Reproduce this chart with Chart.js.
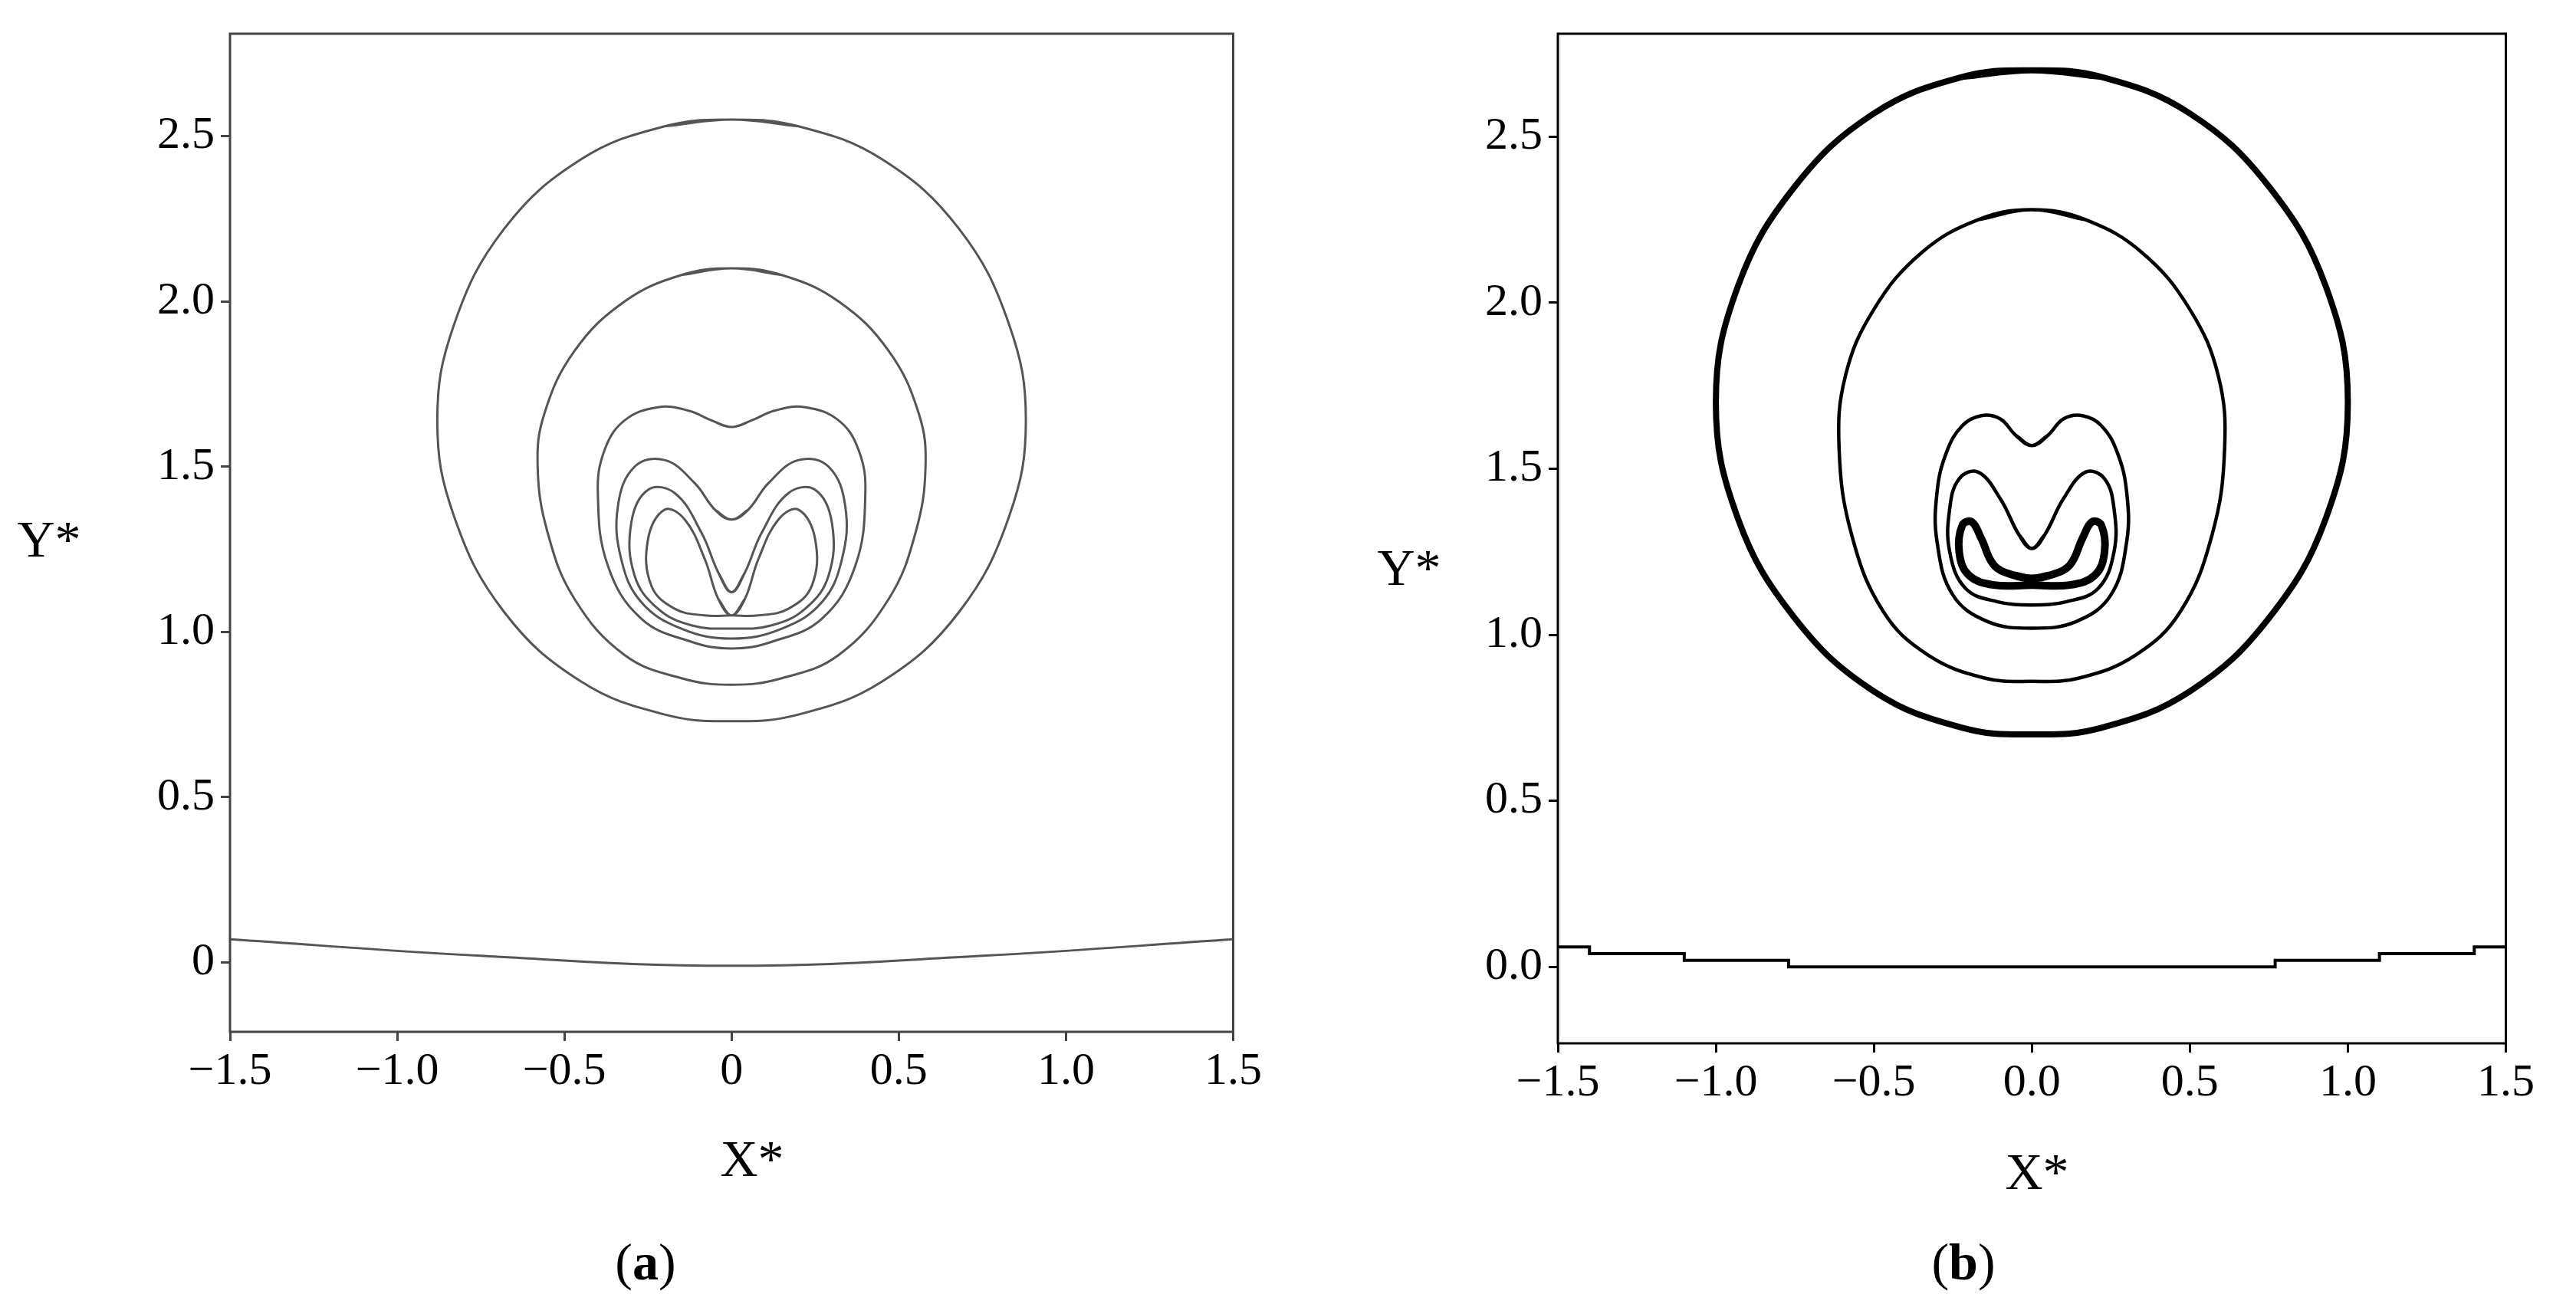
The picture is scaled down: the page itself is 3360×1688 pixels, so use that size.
<!DOCTYPE html>
<html>
<head>
<meta charset="utf-8">
<script src="https://cdn.jsdelivr.net/npm/chart.js@4"></script>
<style>
  body { margin: 0; background: #fff; width: 3360px; height: 1688px; position: relative; overflow: hidden; }
  .box { position: absolute; }
  .lbl { position: absolute; font-family: "Liberation Serif", serif; font-size: 68px; color: #000; transform: translate(-50%, -50%); white-space: nowrap; }
</style>
</head>
<body>
<div class="box" style="left:130px;top:0px;width:1520px;height:1441px"><canvas id="chartA"></canvas></div>
<div class="box" style="left:1862px;top:0px;width:1448px;height:1456px"><canvas id="chartB"></canvas></div>
<div class="lbl" style="left:64px;top:703px">Y*</div>
<div class="lbl" style="left:1838px;top:740px">Y*</div>
<div class="lbl" style="left:981px;top:1511px">X*</div>
<div class="lbl" style="left:2657px;top:1528px">X*</div>
<div class="lbl" style="left:842px;top:1646px">(<b>a</b>)</div>
<div class="lbl" style="left:2561px;top:1646px">(<b>b</b>)</div>
<script>
// tick labels
const xTicksA = ['−1.5', '−1.0', '−0.5', '0', '0.5', '1.0', '1.5'];
const yTicksA = ['0', '0.5', '1.0', '1.5', '2.0', '2.5'];
const xTicksB = ['−1.5', '−1.0', '−0.5', '0.0', '0.5', '1.0', '1.5'];
const yTicksB = ['0.0', '0.5', '1.0', '1.5', '2.0', '2.5'];

// contour half-shapes (right side, x >= 0, top to bottom), mirrored below
const contA1 = [[0, 2.55], [0.2, 2.53], [0.45, 2.43], [0.68, 2.22], [0.83, 1.93], [0.88, 1.64], [0.83, 1.35], [0.68, 1.06], [0.45, 0.85], [0.2, 0.75], [0, 0.73]];
const contA2 = [[0, 2.1], [0.15, 2.08], [0.32, 2.0], [0.47, 1.85], [0.56, 1.66], [0.58, 1.5], [0.55, 1.3], [0.47, 1.1], [0.32, 0.93], [0.15, 0.86], [0, 0.84]];
const contA3 = [[0, 1.62], [0.06, 1.64], [0.13, 1.67], [0.22, 1.68], [0.32, 1.64], [0.38, 1.55], [0.4, 1.42], [0.37, 1.2], [0.27, 1.04], [0.12, 0.97], [0, 0.95]];
const contA4 = [[0, 1.34], [0.05, 1.37], [0.11, 1.45], [0.2, 1.52], [0.29, 1.5], [0.34, 1.38], [0.33, 1.22], [0.27, 1.09], [0.15, 1.01], [0, 0.98]];
const contA5 = [[0, 1.12], [0.04, 1.18], [0.09, 1.3], [0.17, 1.42], [0.25, 1.43], [0.3, 1.33], [0.29, 1.17], [0.22, 1.07], [0.12, 1.02], [0, 1.01]];
const contA6 = [[0, 1.05], [0.04, 1.1], [0.08, 1.22], [0.14, 1.34], [0.2, 1.37], [0.25, 1.28], [0.24, 1.14], [0.17, 1.07], [0.08, 1.05], [0, 1.05]];
const wallA = [[-1.5, 0.07], [-0.75, 0.02], [0, -0.01], [0.75, 0.02], [1.5, 0.07]];

const contB1 = [[0, 2.7], [0.22, 2.68], [0.5, 2.57], [0.75, 2.35], [0.93, 2.05], [1.0, 1.7], [0.93, 1.35], [0.75, 1.05], [0.5, 0.83], [0.22, 0.72], [0, 0.7]];
const contB2 = [[0, 2.28], [0.17, 2.25], [0.35, 2.15], [0.5, 1.98], [0.59, 1.78], [0.61, 1.56], [0.57, 1.3], [0.47, 1.07], [0.33, 0.94], [0.15, 0.87], [0, 0.86]];
const contB3 = [[0, 1.57], [0.05, 1.6], [0.1, 1.65], [0.16, 1.66], [0.22, 1.63], [0.27, 1.55], [0.3, 1.43], [0.3, 1.28], [0.25, 1.12], [0.14, 1.04], [0, 1.02]];
const contB4 = [[0, 1.26], [0.04, 1.3], [0.1, 1.41], [0.17, 1.49], [0.23, 1.47], [0.26, 1.38], [0.26, 1.25], [0.21, 1.14], [0.11, 1.1], [0, 1.09]];
const contB5 = [[0, 1.17], [0.06, 1.18], [0.12, 1.21], [0.16, 1.29], [0.19, 1.34], [0.22, 1.33], [0.23, 1.25], [0.2, 1.18], [0.12, 1.15], [0, 1.15]];
const wallB = [[-1.5, 0.06], [-1.4, 0.04], [-1.1, 0.02], [-0.77, 0.0], [0.77, 0.02], [1.1, 0.04], [1.4, 0.06], [1.5, 0.06]];

function closed(half) {
  const right = half.map(p => ({ x: p[0], y: p[1] }));
  const left = half.slice(1, -1).reverse().map(p => ({ x: -p[0], y: p[1] }));
  const loop = right.concat(left);
  // wrap one point on each end so the join is smooth
  return [loop[loop.length - 1]].concat(loop, [loop[0], loop[1]]);
}
function open(arr) { return arr.map(p => ({ x: p[0], y: p[1] })); }

const frame = {
  id: 'frame',
  afterDraw(chart) {
    const a = chart.chartArea, c = chart.ctx;
    c.save(); c.strokeStyle = chart.options.frameColor || '#000'; c.lineWidth = 3;
    c.strokeRect(a.left, a.top, a.right - a.left, a.bottom - a.top);
    c.restore();
  }
};

function makeChart(id, sets, xLabels, yLabels, yMin, yMax, color) {
  const xVals = [-1.5, -1, -0.5, 0, 0.5, 1, 1.5];
  const yVals = [0, 0.5, 1, 1.5, 2, 2.5];
  const tickFont = { family: 'Liberation Serif', size: 60 };
  return new Chart(document.getElementById(id), {
    type: 'scatter',
    data: { datasets: sets },
    plugins: [frame],
    options: {
      responsive: true, maintainAspectRatio: false, animation: false,
      frameColor: color,
      layout: { padding: { top: 26, right: 30 } },
      plugins: { legend: { display: false }, tooltip: { enabled: false } },
      elements: { point: { radius: 0 } },
      scales: {
        x: {
          type: 'linear', min: -1.5, max: 1.5,
          afterBuildTicks: s => { s.ticks = xVals.map(v => ({ value: v })); },
          afterFit: s => { s.height = 95; },
          ticks: { font: tickFont, color: '#000', padding: 4, maxRotation: 0, callback: (v, i) => xLabels[i] },
          grid: { drawOnChartArea: false, tickLength: 12, color: color, lineWidth: 3 },
          border: { display: false }
        },
        y: {
          type: 'linear', min: yMin, max: yMax,
          afterBuildTicks: s => { s.ticks = yVals.map(v => ({ value: v })); },
          afterFit: s => { s.width = 170; },
          ticks: { font: tickFont, color: '#000', padding: 8, callback: (v, i) => yLabels[i] },
          grid: { drawOnChartArea: false, tickLength: 12, color: color, lineWidth: 3 },
          border: { display: false }
        }
      }
    }
  });
}

const styleA = { showLine: true, borderColor: '#555', borderWidth: 3, tension: 0.4 };
const setsA = [contA1, contA2, contA3, contA4, contA5, contA6].map(c => Object.assign({ data: closed(c) }, styleA));
setsA.push(Object.assign({ data: open(wallA) }, styleA));
makeChart('chartA', setsA, xTicksA, yTicksA, -0.21, 2.81, '#444');

const styleB = { showLine: true, borderColor: '#000', borderWidth: 4.5, tension: 0.4 };
const setsB = [
  Object.assign({ data: closed(contB1) }, styleB, { borderWidth: 8 }),
  Object.assign({ data: closed(contB2) }, styleB),
  Object.assign({ data: closed(contB3) }, styleB),
  Object.assign({ data: closed(contB4) }, styleB),
  Object.assign({ data: closed(contB5) }, styleB, { borderWidth: 10 }),
  { data: open(wallB), showLine: true, borderColor: '#000', borderWidth: 4, stepped: 'before' }
];
makeChart('chartB', setsB, xTicksB, yTicksB, -0.23, 2.81, '#000');
</script>
</body>
</html>
